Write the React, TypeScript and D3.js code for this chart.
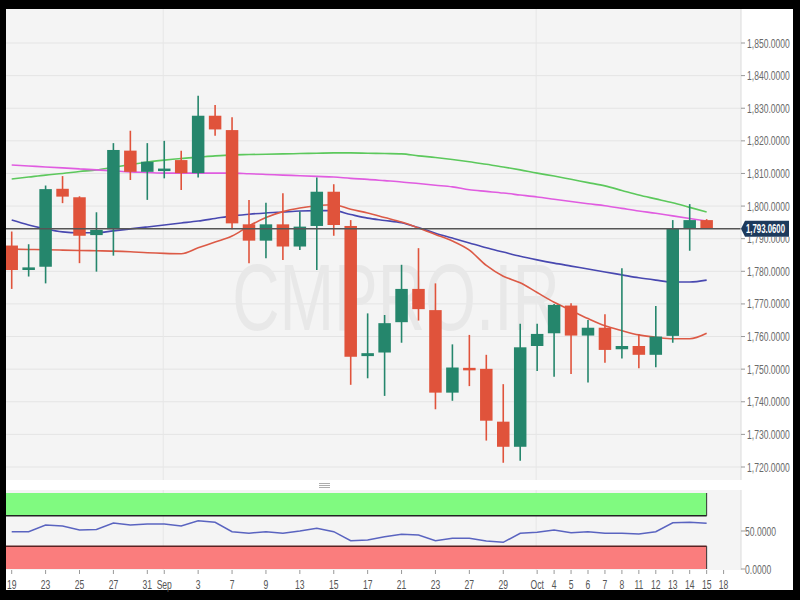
import React from "react";
import * as d3 from "d3";

const dates = ["19","20","23","24","25","26","27","30","31","Sep","2","3","6","7","8","9","10","13","14","15","16","17","20","21","22","23","24","27","28","29","30","Oct","4","5","6","7","8","11","12","13","14","15","18"];
const shownLabels = [0,2,4,6,8,9,11,13,15,17,19,21,23,25,27,29,31,32,33,34,35,36,37,38,39,40,41,42];
const monthStarts = [9, 31];

const opens = [1787.9,1780.4,1781.4,1805.3,1802.7,1791.1,1792.9,1817.0,1810.5,1811.0,1814.1,1810.1,1827.7,1823.3,1794.4,1789.4,1794.4,1787.6,1793.9,1804.4,1793.9,1754.0,1755.1,1764.4,1774.6,1768.1,1742.8,1750.4,1750.1,1733.9,1726.2,1757.1,1761.0,1769.5,1760.3,1762.7,1756.1,1757.1,1754.4,1760.2,1793.0,1795.7];
const highs = [1792.2,1788.3,1806.3,1809.2,1803.0,1798.1,1819.3,1823.1,1819.3,1820.0,1817.0,1833.8,1831.0,1827.2,1801.9,1801.0,1803.9,1798.3,1808.8,1806.7,1795.7,1767.1,1766.6,1782.0,1787.1,1776.3,1757.6,1760.5,1754.4,1745.4,1763.9,1763.9,1770.0,1770.2,1765.1,1766.8,1780.9,1760.8,1769.4,1795.7,1800.6,1796.0];
const lows = [1774.6,1778.4,1776.3,1800.9,1782.5,1779.9,1784.8,1808.0,1801.9,1808.5,1804.9,1808.8,1821.6,1792.9,1782.5,1784.0,1783.5,1786.5,1780.4,1790.9,1745.2,1747.2,1741.8,1758.1,1764.9,1737.7,1740.3,1744.8,1728.1,1721.3,1721.9,1749.4,1747.7,1748.5,1745.9,1752.0,1753.3,1750.3,1750.6,1758.1,1786.3,1793.0];
const closes = [1780.4,1781.2,1805.2,1802.9,1790.9,1792.7,1817.2,1810.5,1813.6,1811.5,1810.1,1827.7,1823.5,1794.7,1789.4,1794.4,1787.6,1793.7,1804.4,1794.2,1753.8,1754.9,1764.1,1774.6,1768.4,1742.8,1750.5,1750.1,1734.2,1726.2,1756.7,1760.8,1769.7,1760.3,1762.7,1755.9,1757.1,1754.4,1760.0,1793.0,1795.7,1793.06];

const maRed = [1786.8,1786.7,1786.6,1786.5,1786.4,1786.3,1786.2,1786.0,1785.7,1785.5,1785.4,1787.2,1789.0,1790.8,1793.9,1796.5,1798.3,1799.4,1800.1,1800.4,1799.0,1797.9,1796.5,1795.1,1793.3,1791.3,1789.3,1786.5,1781.8,1778.5,1776.5,1773.5,1770.5,1768.0,1765.5,1763.3,1761.8,1760.5,1759.8,1759.3,1759.3,1761.0];
const maBlue = [1795.7,1794.2,1793.0,1792.1,1791.8,1791.8,1792.4,1793.0,1793.6,1794.2,1794.8,1795.4,1796.2,1797.0,1797.5,1797.9,1798.2,1798.5,1798.6,1798.6,1797.4,1796.3,1795.6,1794.9,1793.4,1791.7,1790.2,1788.7,1787.2,1785.9,1784.6,1783.5,1782.5,1781.6,1780.7,1779.8,1778.9,1778.0,1777.3,1776.7,1776.7,1777.3];
const maGreen = [1808.3,1808.9,1809.5,1810.0,1810.6,1811.1,1811.9,1812.7,1813.5,1814.1,1814.6,1815.0,1815.4,1815.7,1815.8,1815.9,1816.0,1816.1,1816.2,1816.3,1816.3,1816.2,1816.1,1816.0,1815.4,1814.9,1814.3,1813.6,1812.8,1812.0,1811.1,1810.1,1809.2,1808.2,1807.2,1806.2,1804.8,1803.4,1802.2,1801.0,1799.6,1798.2];
const maMagenta = [1812.6,1812.3,1812.0,1811.7,1811.4,1811.1,1810.8,1810.5,1810.3,1810.1,1810.1,1810.1,1810.1,1810.1,1809.9,1809.7,1809.5,1809.3,1809.1,1808.9,1808.5,1808.2,1807.8,1807.4,1806.9,1806.4,1805.9,1805.0,1804.5,1804.0,1803.4,1802.8,1802.1,1801.4,1800.7,1800.1,1799.3,1798.5,1797.8,1797.0,1796.2,1795.4];
const rsi = [49.1,49.1,57.9,56.6,51.3,52.0,60.5,57.9,59.2,59.2,56.6,63.6,61.4,49.1,47.0,49.1,47.0,50.0,53.6,49.1,37.2,38.2,42.5,45.7,44.7,37.2,40.4,40.4,36.8,35.1,47.0,48.3,51.3,47.8,49.1,47.0,47.0,46.0,49.1,60.9,61.4,60.1];

const priceTicks = [1720,1730,1740,1750,1760,1770,1780,1790,1800,1810,1820,1830,1840,1850];
const rsiTicks = [0, 50];
const overbought = 70;
const oversold = 30;
const lastPrice = 1793.06;

export default function App() {
  const plotL = 6, plotR = 741, plotT = 9, plotB = 480;
  const indT = 490, indB = 570;
  const x = d3.scaleLinear().domain([0, 42]).range([11.7, 723.6]);
  const y = d3.scaleLinear().domain([1720, 1850]).range([467, 43]);
  const yr = d3.scaleLinear().domain([0, 100]).range([569, 493]);
  const fmt = d3.format(",.4f");
  const fmt4 = d3.format(".4f");
  const up = "#25866c";
  const down = "#e0533b";
  const bodyW = 12.5;
  const lastIdx = closes.length - 1;
  const tagTop = y(lastPrice) - 8;
  const tagBot = y(lastPrice) + 8;

  const line = (arr: number[]) =>
    d3.line<number>().x((_, i) => x(i)).y((d) => y(d)).curve(d3.curveMonotoneX)(arr) || "";
  const rsiLine = d3.line<number>().x((_, i) => x(i)).y((d) => yr(d)).curve(d3.curveLinear)(rsi) || "";

  const font = "'Liberation Sans', Arial, sans-serif";
  const sx = 0.66;

  return (
    <svg width={800} height={600} style={{ position: "fixed", left: 0, top: 0, display: "block" }} fontFamily={font}>
      <defs>
        <clipPath id="mainClip"><rect x={plotL} y={plotT} width={plotR - plotL} height={plotB - plotT} /></clipPath>
        <clipPath id="indClip"><rect x={plotL} y={indT} width={plotR - plotL} height={indB - indT} /></clipPath>
        <clipPath id="belowTag"><rect x={plotR} y={tagBot} width={60} height={20} /></clipPath>
      </defs>
      <rect x={0} y={0} width={800} height={600} fill="#000" />
      <rect x={plotL} y={plotT} width={793 - plotL} height={590 - plotT} fill="#ffffff" />
      {/* main plot background */}
      <rect x={plotL} y={plotT} width={plotR - plotL} height={plotB - plotT} fill="#f4f4f4" />
      {priceTicks.map((t) => (
        <line key={"g" + t} x1={plotL} x2={plotR} y1={y(t)} y2={y(t)} stroke="#e4e4e4" strokeWidth={1} />
      ))}
      {monthStarts.map((m) => (
        <line key={"mv" + m} x1={x(m) - 1} x2={x(m) - 1} y1={plotT} y2={plotB} stroke="#e6e6e6" strokeWidth={1} />
      ))}
      {/* watermark */}
      <text transform={`translate(396,330) scale(0.69,1)`} textAnchor="middle" fontSize={95} fill="#e8e8e8" fontFamily={font}>CMPRO.IR</text>
      <g clipPath="url(#mainClip)">
        <path d={line(maGreen)} fill="none" stroke="#5cc85c" strokeWidth={1.6} />
        <path d={line(maMagenta)} fill="none" stroke="#e05ce0" strokeWidth={1.6} />
        <path d={line(maBlue)} fill="none" stroke="#4848b0" strokeWidth={1.6} />
        <path d={line(maRed)} fill="none" stroke="#dc5a46" strokeWidth={1.6} />
        {closes.map((c, i) => {
          const o = opens[i];
          const col = c >= o ? up : down;
          const top = y(Math.max(o, c));
          const bot = y(Math.min(o, c));
          return (
            <g key={"c" + i}>
              <line x1={x(i)} x2={x(i)} y1={y(highs[i])} y2={y(lows[i])} stroke={col} strokeWidth={1.6} />
              <rect x={x(i) - bodyW / 2} y={top} width={bodyW} height={Math.max(2.5, bot - top)} fill={col} />
            </g>
          );
        })}
        <line x1={plotL} x2={plotR} y1={y(lastPrice)} y2={y(lastPrice)} stroke="#555" strokeWidth={1.4} />
      </g>
      <line x1={plotR} x2={plotR} y1={plotT} y2={plotB} stroke="#dcdcdc" />
      {/* right axis */}
      {priceTicks.map((t) => {
        const ty = y(t);
        const hidden = ty + 5 > tagTop && ty - 5 < tagBot;
        return (
          <g key={"t" + t} clipPath={hidden ? "url(#belowTag)" : undefined}>
            <line x1={plotR} x2={plotR + 4} y1={ty} y2={ty} stroke="#999" />
            <text transform={`translate(747,${ty + 4.5}) scale(${sx},1)`} fontSize={13} fill="#6a6a6a">{fmt(t)}</text>
          </g>
        );
      })}
      <polygon
        points={`${plotR},${y(lastPrice)} ${plotR + 4},${tagTop} ${plotR + 48},${tagTop} ${plotR + 48},${tagBot} ${plotR + 4},${tagBot}`}
        fill="#1d3a5c"
      />
      <text transform={`translate(746,${y(lastPrice) + 4.5}) scale(0.6,1)`} fontSize={13} fontWeight="bold" fill="#ffffff">{fmt(lastPrice)}</text>

      {/* splitter grip */}
      {[483.5, 485.5, 487.5].map((gy) => (
        <line key={"grip" + gy} x1={319} x2={330} y1={gy} y2={gy} stroke="#8a8a8a" strokeWidth={0.7} />
      ))}

      {/* indicator panel */}
      <rect x={plotL} y={indT} width={plotR - plotL} height={indB - indT} fill="#f4f4f4" />
      {monthStarts.map((m) => (
        <line key={"mv2" + m} x1={x(m) - 1} x2={x(m) - 1} y1={indT} y2={indB} stroke="#e6e6e6" strokeWidth={1} />
      ))}
      <g clipPath="url(#indClip)">
        <rect x={plotL} y={yr(100)} width={x(lastIdx) - plotL} height={yr(overbought) - yr(100)} fill="#80fa80" />
        <rect x={plotL} y={yr(oversold)} width={x(lastIdx) - plotL} height={yr(0) - yr(oversold)} fill="#fa7d7d" />
        <line x1={plotL} x2={x(lastIdx)} y1={yr(overbought)} y2={yr(overbought)} stroke="#222" strokeWidth={1.4} />
        <line x1={plotL} x2={x(lastIdx)} y1={yr(oversold)} y2={yr(oversold)} stroke="#5a2222" strokeWidth={1.4} />
        <line x1={x(lastIdx)} x2={x(lastIdx)} y1={yr(100)} y2={yr(overbought)} stroke="#333" strokeWidth={1} />
        <line x1={x(lastIdx)} x2={x(lastIdx)} y1={yr(oversold)} y2={yr(0)} stroke="#333" strokeWidth={1} />
        <path d={rsiLine} fill="none" stroke="#5a64c0" strokeWidth={1.5} />
      </g>
      <line x1={plotR} x2={plotR} y1={indT} y2={indB} stroke="#dcdcdc" />
      {rsiTicks.map((t) => (
        <g key={"rt" + t}>
          <line x1={plotR} x2={plotR + 4} y1={yr(t)} y2={yr(t)} stroke="#999" />
          <text transform={`translate(745,${yr(t) + 4.5}) scale(${sx},1)`} fontSize={13} fill="#6a6a6a">{fmt4(t)}</text>
        </g>
      ))}

      {/* x axis */}
      {shownLabels.map((i) => (
        <g key={"xl" + i}>
          <line x1={x(i)} x2={x(i)} y1={indB} y2={indB + 4} stroke="#999" />
          <text transform={`translate(${x(i)},589) scale(${sx},1)`} textAnchor="middle" fontSize={13} fill="#555">{dates[i]}</text>
        </g>
      ))}
    </svg>
  );
}
